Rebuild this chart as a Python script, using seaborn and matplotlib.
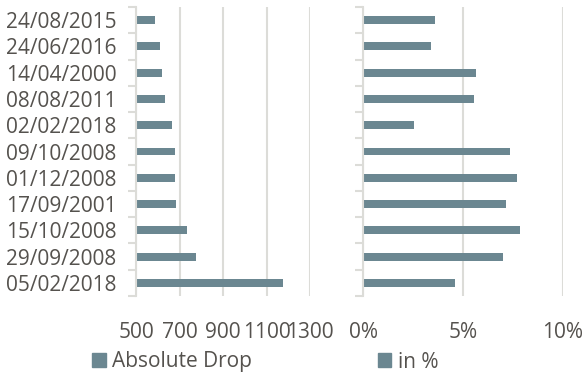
import pandas as pd
import matplotlib
matplotlib.use('Agg')
import matplotlib.pyplot as plt
import seaborn as sns
from matplotlib.patches import Patch
from matplotlib.ticker import PercentFormatter, FixedLocator

dates = ['24/08/2015', '24/06/2016', '14/04/2000', '08/08/2011', '02/02/2018',
         '09/10/2008', '01/12/2008', '17/09/2001', '15/10/2008', '29/09/2008',
         '05/02/2018']
abs_drop = [588.4, 610.3, 617.8, 634.8, 665.8, 678.9, 680.0, 684.8, 733.1, 777.7, 1175.2]
pct_drop = [0.0358, 0.0339, 0.0566, 0.0555, 0.0254, 0.0733, 0.0770, 0.0713, 0.0787, 0.0698, 0.0460]

df = pd.DataFrame({'date': dates, 'abs': abs_drop, 'pct': pct_drop})

sns.set_style('white')
plt.rcParams['font.family'] = ['Open Sans', 'DejaVu Sans']
plt.rcParams['font.size'] = 15

bar_c = '#6b8791'
grid_c = '#dcdcd8'
txt_c = '#55524e'

W, H = 585, 376
fig = plt.figure(figsize=(W / 100, H / 100), dpi=100)

def px_axes(x0, x1, y0, y1):
    return fig.add_axes([x0 / W, 1 - y1 / H, (x1 - x0) / W, (y1 - y0) / H])

ax1 = px_axes(136, 310, 7, 296)
ax2 = px_axes(363, 563, 7, 296)

sns.barplot(data=df, y='date', x='abs', orient='h', color=bar_c, width=0.3,
            saturation=1, linewidth=0, ax=ax1)
sns.barplot(data=df, y='date', x='pct', orient='h', color=bar_c, width=0.3,
            saturation=1, linewidth=0, ax=ax2)

ax1.set_xlim(500, 1300)
ax1.set_xticks([500, 700, 900, 1100, 1300])
ax2.set_xlim(0, 0.10)
ax2.set_xticks([0, 0.05, 0.10])
ax2.xaxis.set_major_formatter(PercentFormatter(1, decimals=0))

for ax in (ax1, ax2):
    ax.set_ylim(10.5, -0.5)
    ax.set_xlabel('')
    ax.set_ylabel('')
    ax.grid(axis='x', color=grid_c, linewidth=1.5)
    ax.set_axisbelow(True)
    for s in ('top', 'right', 'bottom'):
        ax.spines[s].set_visible(False)
    ax.spines['left'].set_color(grid_c)
    ax.spines['left'].set_linewidth(1.5)
    ax.tick_params(axis='x', length=0, pad=19, labelcolor=txt_c, labelsize=15)
    ax.yaxis.set_minor_locator(FixedLocator([i - 0.5 for i in range(12)]))
    ax.tick_params(axis='y', which='minor', length=6, width=1.5, color=grid_c, left=True)
    ax.tick_params(axis='y', which='major', length=0, labelcolor=txt_c, labelsize=15, pad=14)

ax2.set_yticklabels([])

fig.legend(handles=[Patch(color=bar_c, label='Absolute Drop')], loc='center',
           bbox_to_anchor=(172 / W, 1 - 362 / H), frameon=False, fontsize=15,
           handlelength=0.65, handleheight=0.65, handletextpad=0.3, labelcolor=txt_c)
fig.legend(handles=[Patch(color=bar_c, label='in %')], loc='center',
           bbox_to_anchor=(408 / W, 1 - 362 / H), frameon=False, fontsize=15,
           handlelength=0.65, handleheight=0.65, handletextpad=0.3, labelcolor=txt_c)

fig.savefig('out.png', dpi=100)
